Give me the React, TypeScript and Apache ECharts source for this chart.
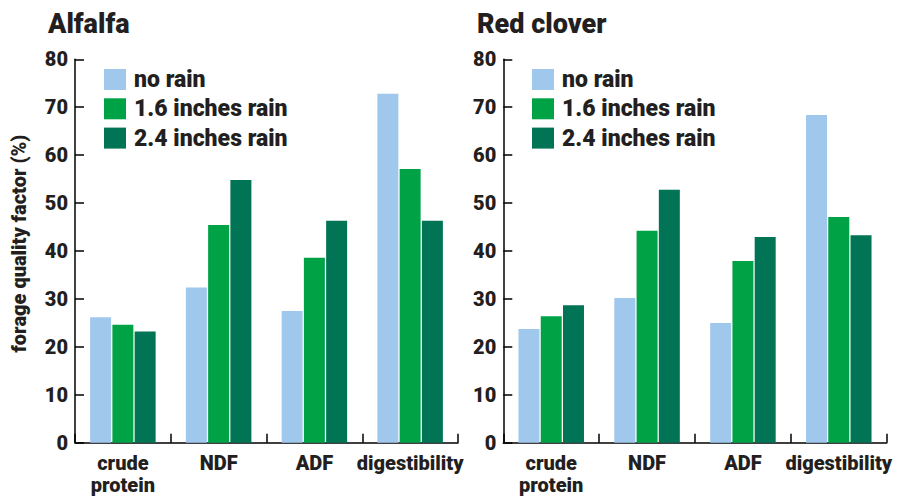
import React, { useEffect, useRef } from "react";
import * as echarts from "echarts";

const categories = ["crude\nprotein", "NDF", "ADF", "digestibility"];
const seriesNames = ["no rain", "1.6 inches rain", "2.4 inches rain"];
const colors = ["#9FC8EC", "#00A246", "#007455"];

const alfalfaNoRain = [26.2, 32.4, 27.5, 72.8];
const alfalfa16 = [24.6, 45.4, 38.6, 57.1];
const alfalfa24 = [23.2, 54.8, 46.3, 46.3];

const cloverNoRain = [23.7, 30.2, 25.0, 68.4];
const clover16 = [26.4, 44.2, 37.9, 47.1];
const clover24 = [28.7, 52.8, 42.9, 43.3];

const titles = ["Alfalfa", "Red clover"];
const yTicks = { min: 0, max: 80, interval: 10 };
const yName = "forage quality factor (%)";

const FONT = "Roboto, 'Liberation Sans', Arial, sans-serif";
const WEIGHT = 900;
const INK = "#231F20";

export default function App() {
  const ref = useRef<HTMLDivElement>(null);
  useEffect(() => {
    if (!ref.current) return;
    const chart = echarts.init(ref.current, null, { renderer: "svg" });
    const data = [
      [alfalfaNoRain, alfalfa16, alfalfa24],
      [cloverNoRain, clover16, clover24],
    ];
    const grids = [
      { left: 75, top: 59.3, width: 383, height: 383.4 },
      { left: 503.3, top: 59.3, width: 383.4, height: 383.4 },
    ];
    const axisLine = { show: true, lineStyle: { color: "#000", width: 1.5 } };
    const xAxes = grids.map((_, i) => ({
      type: "category",
      gridIndex: i,
      data: categories,
      axisLine,
      axisTick: { show: true, inside: true, length: 9, lineStyle: { color: "#000", width: 1.5 } },
      axisLabel: {
        interval: 0,
        margin: 9,
        color: INK,
        fontFamily: FONT,
        fontWeight: WEIGHT,
        fontSize: 20,
        lineHeight: 22,
      },
    }));
    const yAxes = grids.map((_, i) => ({
      type: "value",
      gridIndex: i,
      min: yTicks.min,
      max: yTicks.max,
      interval: yTicks.interval,
      splitLine: { show: false },
      axisLine,
      axisTick: { show: true, inside: true, length: 9, lineStyle: { color: "#000", width: 1.5 } },
      axisLabel: {
        margin: 7,
        color: INK,
        fontFamily: FONT,
        fontWeight: WEIGHT,
        fontSize: 20,
      },
    }));
    const series: any[] = [];
    data.forEach((group, gi) => {
      group.forEach((vals, si) => {
        series.push({
          type: "bar",
          name: seriesNames[si],
          xAxisIndex: gi,
          yAxisIndex: gi,
          data: vals,
          barWidth: 21,
          barGap: "6%",
          itemStyle: { color: colors[si] },
          emphasis: { disabled: true },
        });
      });
    });
    const legendLefts = [104, 532];
    chart.setOption({
      animation: false,
      color: colors,
      title: titles.map((t, i) => ({
        text: t,
        left: i === 0 ? 48 : 477,
        top: 10,
        padding: 0,
        textStyle: {
          fontFamily: FONT,
          fontWeight: WEIGHT,
          fontSize: 27,
          color: INK,
        },
      })),
      legend: legendLefts.map((l) => ({
        orient: "vertical",
        left: l,
        top: 68,
        padding: 0,
        itemWidth: 22,
        itemHeight: 21,
        itemGap: 6.3,
        icon: "rect",
        selectedMode: false,
        data: seriesNames,
        textStyle: {
          fontFamily: FONT,
          fontWeight: WEIGHT,
          fontSize: 23,
          lineHeight: 21,
          color: INK,
          padding: [0, 0, 0, 3],
        },
      })),
      grid: grids,
      xAxis: xAxes,
      yAxis: yAxes,
      series,
      graphic: [
        {
          type: "text",
          x: 18.5,
          y: 243.5,
          rotation: Math.PI / 2,
          style: {
            text: yName,
            fontFamily: FONT,
            fontWeight: WEIGHT,
            fontSize: 20,
            fill: INK,
            align: "center",
            verticalAlign: "middle",
          },
        },
      ],
    });
    return () => chart.dispose();
  }, []);
  return (
    <div
      ref={ref}
      style={{ position: "fixed", left: 0, top: 0, width: 906, height: 497, background: "#fff" }}
    />
  );
}
